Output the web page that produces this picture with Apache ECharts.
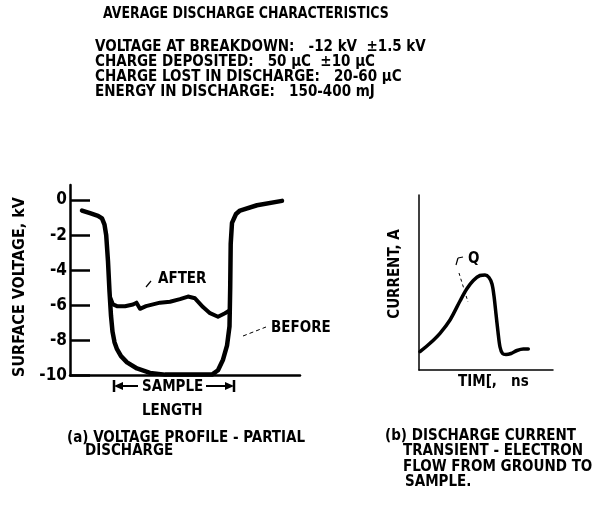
<!DOCTYPE html>
<html>
<head>
<meta charset="utf-8">
<script src="https://cdn.jsdelivr.net/npm/echarts@6/dist/echarts.min.js"></script>
<style>
  html, body { margin: 0; padding: 0; background: #fff; }
  #chart { width: 594px; height: 512px; }
</style>
</head>
<body>
<div id="chart"></div>
<script>
// Heading block
const headingText = 'AVERAGE DISCHARGE CHARACTERISTICS';
const statLabels = [
  'VOLTAGE AT BREAKDOWN:',
  'CHARGE DEPOSITED:',
  'CHARGE LOST IN DISCHARGE:',
  'ENERGY IN DISCHARGE:'
];
const statValues = [
  '-12 kV  ±1.5 kV',
  '50 μC  ±10 μC',
  '20-60 μC',
  '150-400 mJ'
];

// (a) surface voltage profile across the sample, kV
const voltageTicks = [-10, -8, -6, -4, -2, 0];
const profileBefore = [
  [1.2, -0.6], [2.0, -0.75], [2.8, -0.9], [3.2, -1.05], [3.45, -1.4], [3.62, -2.0],
  [3.8, -3.5], [3.95, -5.2], [4.1, -6.6], [4.25, -7.5], [4.45, -8.1], [4.7, -8.5],
  [5.1, -8.9], [5.7, -9.25], [6.7, -9.6], [8.0, -9.85], [9.5, -9.95], [14.2, -9.95],
  [14.8, -9.7], [15.3, -9.1], [15.7, -8.3], [15.95, -7.2], [16.02, -5.0], [16.07, -2.5],
  [16.2, -1.3], [16.6, -0.8], [17.0, -0.6], [18.7, -0.3], [21.2, -0.05]
];
const profileAfter = [
  [4.05, -5.6], [4.3, -5.95], [4.7, -6.05], [5.5, -6.05], [6.3, -5.95], [6.65, -5.85],
  [7.0, -6.2], [7.6, -6.05], [9.0, -5.85], [10.0, -5.8], [11.0, -5.65], [11.8, -5.5],
  [12.5, -5.6], [13.3, -6.1], [14.0, -6.45], [14.8, -6.65], [15.5, -6.45], [15.95, -6.3]
];

// (b) discharge current transient
const currentTransient = [
  [0.1, 1.83], [1.1, 2.67], [2.1, 3.67], [3.1, 5.0], [4.1, 6.9], [4.77, 8.1],
  [5.43, 8.95], [6.1, 9.45], [6.6, 9.5], [7.0, 9.25], [7.3, 8.6], [7.5, 7.4],
  [7.7, 5.6], [7.9, 3.8], [8.1, 2.3], [8.35, 1.65], [8.7, 1.55], [9.2, 1.65],
  [9.8, 1.95], [10.43, 2.1], [10.93, 2.1]
];

const FONT = '"Liberation Sans Narrow", "DejaVu Sans Condensed", sans-serif';
const INK = '#000';

function txt(x, y, text, size, opts) {
  opts = opts || {};
  return {
    type: 'text', x: x, y: y, rotation: opts.rotation || 0, z: 10,
    scaleX: opts.scaleX || 1,
    style: {
      text: text, fill: INK,
      font: (opts.weight || 'bold') + ' ' + size + 'px ' + FONT,
      textAlign: opts.align || 'left', textVerticalAlign: 'middle'
    }
  };
}
function seg(x1, y1, x2, y2, w, dash) {
  return {
    type: 'line', z: 10,
    shape: { x1: x1, y1: y1, x2: x2, y2: y2 },
    style: { stroke: INK, lineWidth: w, lineDash: dash || null }
  };
}
function head(points) {
  return { type: 'polygon', z: 10, shape: { points: points }, style: { fill: INK } };
}

const graphics = [];
graphics.push(txt(103, 14, headingText, 16, { scaleX: 0.87 }));
statLabels.forEach(function (label, i) {
  graphics.push(txt(95, 47 + i * 15, label + '   ' + statValues[i], 15));
});

// panel (a) annotations
graphics.push(txt(20, 287, 'SURFACE VOLTAGE, kV', 16, { rotation: Math.PI / 2, align: 'center' }));
graphics.push(txt(158, 279, 'AFTER', 15));
graphics.push(seg(146, 287, 151, 281, 1.2));
graphics.push(txt(271, 328, 'BEFORE', 15));
graphics.push(seg(243, 336, 266, 327, 1, [4, 3]));
graphics.push(txt(142, 387, 'SAMPLE', 15));
graphics.push(txt(142, 411, 'LENGTH', 15));
graphics.push(seg(114, 380, 114, 392, 2.5));
graphics.push(seg(118, 386, 138, 386, 2));
graphics.push(head([[114, 386], [123, 382], [123, 390]]));
graphics.push(seg(234, 380, 234, 392, 2.5));
graphics.push(seg(206, 386, 226, 386, 2));
graphics.push(head([[234, 386], [225, 382], [225, 390]]));
graphics.push(txt(67, 438, '(a) VOLTAGE PROFILE - PARTIAL', 15));
graphics.push(txt(85, 451, 'DISCHARGE', 15));

// panel (b) annotations
graphics.push(txt(395, 274, 'CURRENT, A', 15, { rotation: Math.PI / 2, align: 'center' }));
graphics.push(txt(468, 259, 'Q', 15));
graphics.push(seg(456, 265, 458, 258, 1.2));
graphics.push(seg(458, 258, 463, 257, 1.2));
graphics.push(seg(459, 273, 468, 302, 1, [3, 3]));
graphics.push(txt(458, 382, 'TIM[,   ns', 15));
graphics.push(txt(385, 436, '(b) DISCHARGE CURRENT', 15));
graphics.push(txt(403, 451, 'TRANSIENT - ELECTRON', 15));
graphics.push(txt(403, 467, 'FLOW FROM GROUND TO', 15));
graphics.push(txt(405, 482, 'SAMPLE.', 15));

const chart = echarts.init(document.getElementById('chart'));
chart.setOption({
  backgroundColor: '#fff',
  animation: false,
  grid: [
    { left: 70, top: 185, width: 230, height: 190.5 },
    { left: 419, top: 195, width: 134, height: 175 }
  ],
  xAxis: [
    {
      gridIndex: 0, type: 'value', min: 0, max: 23,
      axisLine: { show: true, onZero: false, lineStyle: { color: INK, width: 2.5 } },
      axisTick: { show: false }, axisLabel: { show: false }, splitLine: { show: false }
    },
    {
      gridIndex: 1, type: 'value', min: 0, max: 13.4,
      axisLine: { show: true, onZero: false, lineStyle: { color: INK, width: 1.5 } },
      axisTick: { show: false }, axisLabel: { show: false }, splitLine: { show: false }
    }
  ],
  yAxis: [
    {
      gridIndex: 0, type: 'value', min: -10, max: 0.855, interval: 2,
      axisLine: { show: true, onZero: false, lineStyle: { color: INK, width: 2.5 } },
      axisTick: {
        show: true, inside: true, length: 20, customValues: voltageTicks,
        lineStyle: { color: INK, width: 2.5 }
      },
      axisLabel: {
        show: true, margin: 3, customValues: voltageTicks,
        color: INK, fontFamily: FONT, fontWeight: 'bold', fontSize: 17
      },
      splitLine: { show: false }
    },
    {
      gridIndex: 1, type: 'value', min: 0, max: 17.5,
      axisLine: { show: true, onZero: false, lineStyle: { color: INK, width: 1.5 } },
      axisTick: { show: false }, axisLabel: { show: false }, splitLine: { show: false }
    }
  ],
  series: [
    {
      name: 'BEFORE', type: 'line', xAxisIndex: 0, yAxisIndex: 0,
      data: profileBefore, symbol: 'none', smooth: false,
      lineStyle: { color: INK, width: 4.5, join: 'round', cap: 'round' }
    },
    {
      name: 'AFTER', type: 'line', xAxisIndex: 0, yAxisIndex: 0,
      data: profileAfter, symbol: 'none', smooth: false,
      lineStyle: { color: INK, width: 4, join: 'round', cap: 'round' }
    },
    {
      name: 'CURRENT', type: 'line', xAxisIndex: 1, yAxisIndex: 1,
      data: currentTransient, symbol: 'none', smooth: 0.3,
      lineStyle: { color: INK, width: 3.5, join: 'round', cap: 'round' }
    }
  ],
  graphic: graphics
});
</script>
</body>
</html>
